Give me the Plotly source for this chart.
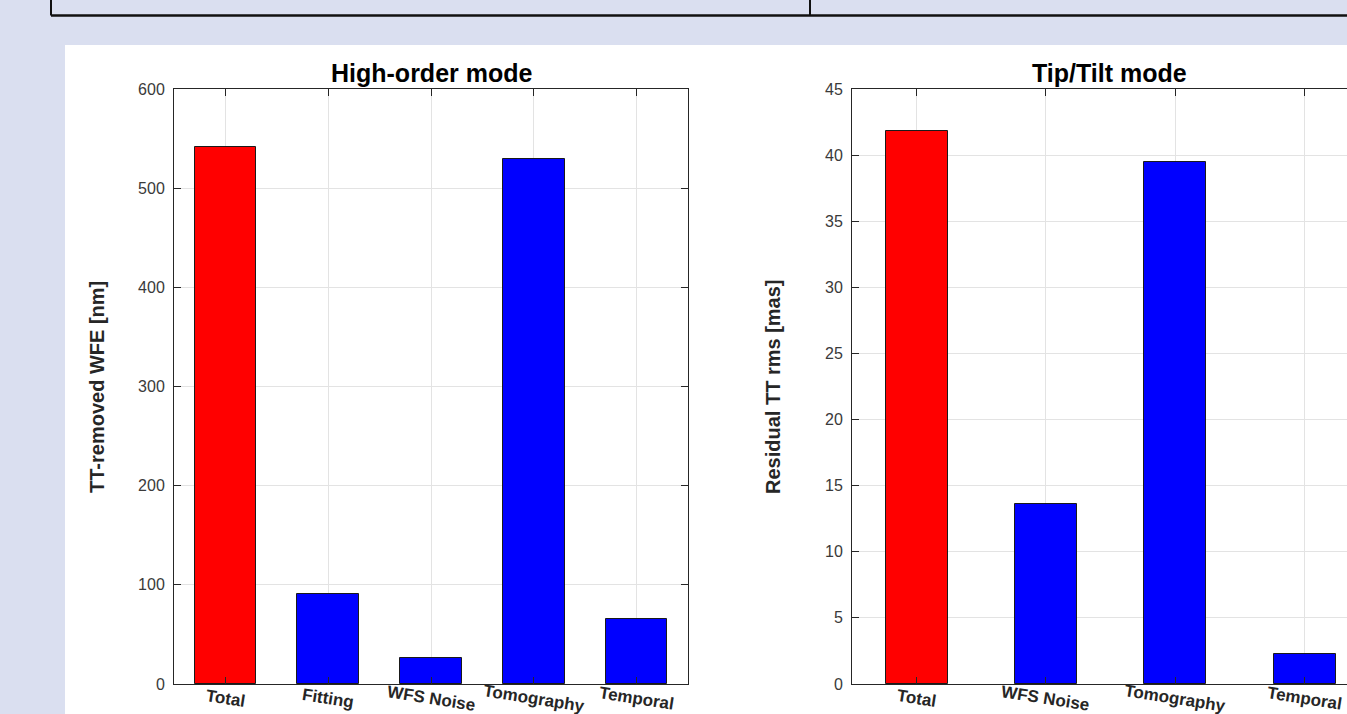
import plotly.graph_objects as go

W, H = 1347, 714

# High-order error budget (nm)
ho_categories = ["Total", "Fitting", "WFS Noise", "Tomography", "Temporal"]
ho_values = [541.5, 90.8, 26.2, 529.4, 65.5]
ho_colors = ["#ff0000", "#0000ff", "#0000ff", "#0000ff", "#0000ff"]
ho_ticks = [0, 100, 200, 300, 400, 500, 600]

# Tip/Tilt error budget (mas)
tt_categories = ["Total", "WFS Noise", "Tomography", "Temporal"]
tt_values = [41.8, 13.6, 39.45, 2.27]
tt_colors = ["#ff0000", "#0000ff", "#0000ff", "#0000ff"]
tt_ticks = [0, 5, 10, 15, 20, 25, 30, 35, 40, 45]

FONT = "Liberation Sans, Arial, sans-serif"
BG = "#dadff0"
GRID = "#e3e3e3"
AX = "#262626"


def px_x(x):
    return x / W


def px_y(y):
    return 1 - y / H


fig = go.Figure()

ho_pos = list(range(1, len(ho_categories) + 1))
tt_pos = list(range(1, len(tt_categories) + 1))

fig.add_trace(go.Bar(
    x=ho_pos, y=ho_values,
    marker=dict(color=ho_colors, line=dict(color="#1a1a1a", width=1)),
    width=0.6, xaxis="x", yaxis="y", showlegend=False,
))
fig.add_trace(go.Bar(
    x=tt_pos, y=tt_values,
    marker=dict(color=tt_colors, line=dict(color="#1a1a1a", width=1)),
    width=0.48, xaxis="x2", yaxis="y2", showlegend=False,
))

y_dom = [px_y(684), px_y(89)]
tick_font = dict(family=FONT, size=16, color="#3a3a3a")

common_x = dict(
    showgrid=True, gridcolor=GRID, gridwidth=1, zeroline=False,
    showline=True, linecolor=AX, linewidth=1, mirror="ticks",
    ticks="inside", ticklen=7, tickcolor=AX, showticklabels=False,
    automargin=False,
)
common_y = dict(
    domain=y_dom, showgrid=True, gridcolor=GRID, zeroline=False,
    showline=True, linecolor=AX, linewidth=1,
    ticks="inside", ticklen=7, tickcolor=AX, tickfont=tick_font,
    ticklabelstandoff=5, automargin=False,
)
fig.update_layout(
    xaxis=dict(common_x, domain=[px_x(174), px_x(688)], range=[0.5, 5.5],
               tickvals=ho_pos, anchor="y"),
    yaxis=dict(common_y, range=[0, 600], tickvals=ho_ticks, mirror="ticks",
               anchor="x"),
    xaxis2=dict(common_x, domain=[px_x(852), 1.0],
                range=[0.5, 0.5 + (W - 852) / 129.3],
                tickvals=tt_pos, anchor="y2"),
    yaxis2=dict(common_y, range=[0, 45], tickvals=tt_ticks, mirror=False,
                anchor="x2"),
)

shapes = [
    # white figure panel
    dict(type="rect", xref="paper", yref="paper", x0=px_x(65), x1=1.0,
         y0=0, y1=px_y(45), fillcolor="white", line=dict(width=0),
         layer="below"),
    # table border strip at the top
    dict(type="line", xref="paper", yref="paper", x0=px_x(51), x1=1.0,
         y0=px_y(15.5), y1=px_y(15.5), line=dict(color="#111111", width=2.5)),
    dict(type="line", xref="paper", yref="paper", x0=px_x(51), x1=px_x(51),
         y0=px_y(15.5), y1=1.0, line=dict(color="#111111", width=2)),
    dict(type="line", xref="paper", yref="paper", x0=px_x(810), x1=px_x(810),
         y0=px_y(15.5), y1=1.0, line=dict(color="#111111", width=2)),
]


def paper_text(text, x, y, size, color, angle=0):
    return dict(text=text, x=px_x(x), y=px_y(y), xref="paper", yref="paper",
                showarrow=False, textangle=angle, xanchor="center",
                yanchor="middle", font=dict(family=FONT, size=size,
                                            color=color))


annotations = [
    paper_text("<b>High-order mode</b>", 431, 73, 25, "#000000"),
    paper_text("<b>Tip/Tilt mode</b>", 1109, 73, 25, "#000000"),
    paper_text("<b>TT-removed WFE [nm]</b>", 97, 387, 20, AX, -90),
    paper_text("<b>Residual TT rms [mas]</b>", 773, 387, 20, AX, -90),
]

# slanted category labels under each axis
label_font = dict(family=FONT, size=17, color=AX)
for xref, pos, cats in (("x", ho_pos, ho_categories),
                        ("x2", tt_pos, tt_categories)):
    for p, c in zip(pos, cats):
        annotations.append(dict(
            text="<b>" + c + "</b>", x=p, y=px_y(698), xref=xref,
            yref="paper", showarrow=False, textangle=9,
            xanchor="center", yanchor="middle", font=label_font,
        ))

fig.update_layout(
    width=W, height=H, margin=dict(l=0, r=0, t=0, b=0, autoexpand=False),
    paper_bgcolor=BG, plot_bgcolor="white",
    shapes=shapes, annotations=annotations, bargap=0,
    font=dict(family=FONT),
)

fig.write_html("out.html")
